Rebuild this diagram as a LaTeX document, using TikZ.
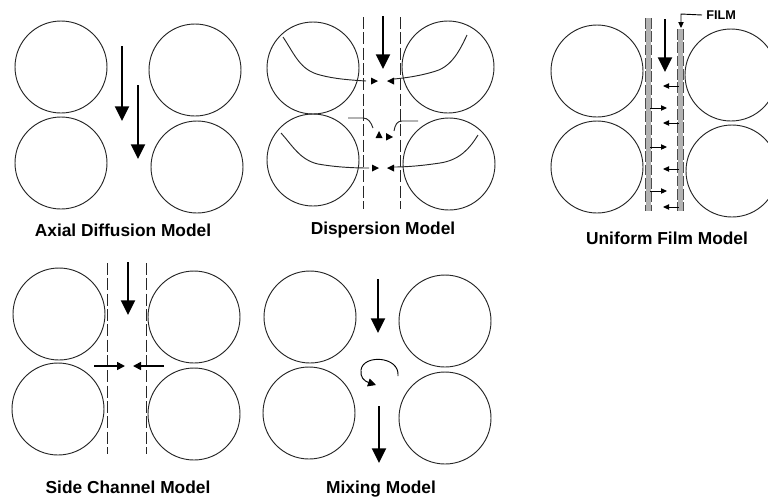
\documentclass[tikz,border=0pt]{standalone}
\usepackage{fontspec}
\setmainfont{Liberation Sans}
\usetikzlibrary{arrows.meta}
\tikzset{
  ball/.style={circle, draw=black!85, line width=0.7pt, minimum size=69pt, inner sep=0pt},
  bigarrow/.style={-{Triangle[width=10.5pt,length=11pt]}, line width=1.6pt},
  smallarrow/.style={-{Triangle[width=4pt,length=4.5pt]}, line width=0.7pt},
  chan/.style={dash pattern=on 9pt off 2.5pt, line width=0.7pt, black!85},
  filmband/.style={line width=3.6pt, black!30},
  filmedge/.style={dash pattern=on 8pt off 2pt, line width=1pt, black!70},
  thinline/.style={line width=0.7pt, black!85},
  lbl/.style={font=\bfseries\fontsize{13pt}{15pt}\selectfont, inner sep=0pt},
  tip/.style={fill=black}
}
\begin{document}
\begin{tikzpicture}[x=0.75pt,y=-0.75pt]
\useasboundingbox (0,0) rectangle (768,501);
\clip (0,0) rectangle (768,501);
% ---------- Axial Diffusion Model ----------
\node[ball] (a1) at (61,67) {};
\node[ball] (a2) at (61,163) {};
\node[ball] (a3) at (195,70) {};
\node[ball] (a4) at (197,167) {};
\coordinate (ax1s) at (122,46); \coordinate (ax1e) at (122,121);
\coordinate (ax2s) at (138,85); \coordinate (ax2e) at (138,159);
\draw[bigarrow] (ax1s) -- (ax1e);
\draw[bigarrow] (ax2s) -- (ax2e);
\node[lbl] (la) at (123,230) {Axial Diffusion Model};
% ---------- Dispersion Model ----------
\node[ball] (d1) at (313,68) {};
\node[ball] (d2) at (313,160) {};
\node[ball] (d3) at (448,67) {};
\node[ball] (d4) at (449,164) {};
\coordinate (dl1) at (363,17); \coordinate (dl2) at (363,209);
\coordinate (dr1) at (400,17); \coordinate (dr2) at (400,209);
\draw[chan] (dl1) -- (dl2);
\draw[chan] (dr1) -- (dr2);
\coordinate (dAs) at (383,16); \coordinate (dAe) at (383,69);
\draw[bigarrow] (dAs) -- (dAe);
% top curves
\draw[thinline] (283,37) .. controls (295,55) and (300,70) .. (320,75) .. controls (335,79) and (350,80) .. (366,81);
\draw[thinline] (467,35) .. controls (460,50) and (452,66) .. (436,71) .. controls (420,76) and (405,78) .. (394,79);
\fill[tip] (371,77.5) -- (378,81) -- (371,84.5) -- cycle;
\fill[tip] (394,77.5) -- (387,81) -- (394,84.5) -- cycle;
% middle curves
\draw[thinline] (348,118) -- (363,118) .. controls (368,118) and (371,122) .. (373,128);
\draw[thinline] (418,121) -- (402,121) .. controls (397,121) and (395,125) .. (394,131);
\fill[tip] (375.5,138) -- (379,131) -- (382.5,138) -- cycle;
\fill[tip] (386,133) -- (393,137) -- (386,140.5) -- cycle;
% bottom curves
\draw[thinline] (281,133) .. controls (292,145) and (300,160) .. (318,164) .. controls (335,167) and (352,168) .. (369,168);
\draw[thinline] (478,135) .. controls (470,148) and (460,160) .. (440,163) .. controls (420,166) and (405,167) .. (394,167);
\fill[tip] (372,164.5) -- (379,168) -- (372,171.5) -- cycle;
\fill[tip] (394,164.5) -- (387,168) -- (394,171.5) -- cycle;
\node[lbl] (ld) at (383,230) {Dispersion Model};
% ---------- Uniform Film Model ----------
\node[ball] (f1) at (597,71) {};
\node[ball] (f2) at (597,167) {};
\node[ball] (f3) at (731,75) {};
\node[ball] (f4) at (732,171) {};
\coordinate (fl1) at (648.5,18); \coordinate (fl2) at (648.5,211);
\coordinate (fr1) at (680.5,29); \coordinate (fr2) at (680.5,211);
\draw[filmband] (fl1) -- (fl2);
\draw[filmband] (fr1) -- (fr2);
\draw[filmedge] ([xshift=-2.2pt]fl1) -- ([xshift=-2.2pt]fl2);
\draw[filmedge] ([xshift=2.2pt]fl1) -- ([xshift=2.2pt]fl2);
\draw[filmedge] ([xshift=-2.2pt]fr1) -- ([xshift=-2.2pt]fr2);
\draw[filmedge] ([xshift=2.2pt]fr1) -- ([xshift=2.2pt]fr2);
\coordinate (fAs) at (665,19); \coordinate (fAe) at (665,72);
\draw[bigarrow] (fAs) -- (fAe);
\foreach \yy/\nm in {86/p1,123/p2,169/p3,207/p4}{
  \coordinate (\nm s) at (679,\yy); \coordinate (\nm e) at (663,\yy);
  \draw[smallarrow] (\nm s) -- (\nm e);
}
\foreach \yy/\nm in {108/q1,147/q2,191/q3}{
  \coordinate (\nm s) at (650,\yy); \coordinate (\nm e) at (667,\yy);
  \draw[smallarrow] (\nm s) -- (\nm e);
}
\node[font=\bfseries\fontsize{9.5pt}{11pt}\selectfont, inner sep=0pt, anchor=west] (film) at (706,15) {FILM};
\coordinate (fk) at (681,14);
\draw[smallarrow, line width=0.7pt] ([xshift=-3pt]film.west) -- (fk) -- ([yshift=-10.5pt]fk);
\node[lbl] (lf) at (667,238) {Uniform Film Model};
% ---------- Side Channel Model ----------
\node[ball] (s1) at (59,314) {};
\node[ball] (s2) at (58,409) {};
\node[ball] (s3) at (194,317) {};
\node[ball] (s4) at (194,414) {};
\coordinate (sl1) at (107,263); \coordinate (sl2) at (107,454);
\coordinate (sr1) at (146,263); \coordinate (sr2) at (146,454);
\draw[chan] (sl1) -- (sl2);
\draw[chan] (sr1) -- (sr2);
\coordinate (sAs) at (128,262); \coordinate (sAe) at (128,315);
\draw[bigarrow] (sAs) -- (sAe);
\coordinate (sh1s) at (94,366); \coordinate (sh1e) at (125,366);
\coordinate (sh2s) at (164,366); \coordinate (sh2e) at (133,366);
\draw[-{Triangle[width=6pt,length=6pt]}, line width=1.2pt] (sh1s) -- (sh1e);
\draw[-{Triangle[width=6pt,length=6pt]}, line width=1.2pt] (sh2s) -- (sh2e);
\node[lbl] (ls) at (128,487) {Side Channel Model};
% ---------- Mixing Model ----------
\node[ball] (m1) at (310,317) {};
\node[ball] (m2) at (309,413) {};
\node[ball] (m3) at (445,321) {};
\node[ball] (m4) at (445,418) {};
\coordinate (mA1s) at (378,279); \coordinate (mA1e) at (378,333);
\coordinate (mA2s) at (379,406); \coordinate (mA2e) at (379,463);
\draw[bigarrow] (mA1s) -- (mA1e);
\draw[bigarrow] (mA2s) -- (mA2e);
\coordinate (mc1) at (398,376);
\coordinate (mc2) at (376,385);
\draw[-{Triangle[width=6pt,length=6pt]}, line width=0.7pt] (mc1) .. controls (400,356) and (363,354) .. (361,370) .. controls (360,377) and (364,381) .. (mc2);
\node[lbl] (lm) at (381,489) {Mixing Model};
\end{tikzpicture}
\end{document}
